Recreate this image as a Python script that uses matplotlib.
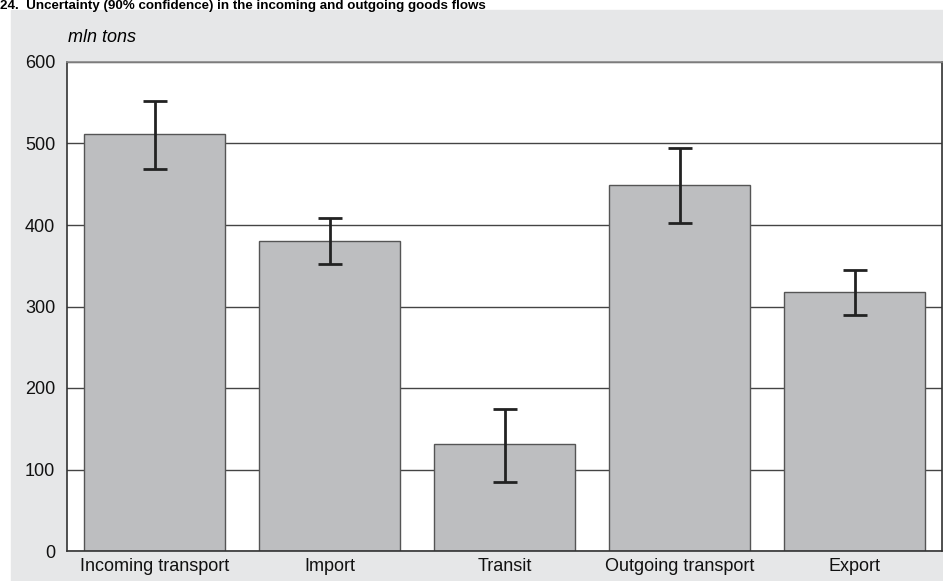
import matplotlib
matplotlib.use('Agg')
import matplotlib.pyplot as plt
import numpy as np

plt.rcParams['font.family'] = ['Liberation Sans', 'DejaVu Sans']

# data (mln tons)
categories = ['Incoming transport', 'Import', 'Transit', 'Outgoing transport', 'Export']
values = [512, 380, 131, 449, 318]
err_low = [469, 352, 85, 402, 290]
err_high = [552, 408, 174, 494, 345]
yticks = [0, 100, 200, 300, 400, 500, 600]

fig = plt.figure(figsize=(9.43, 5.81), dpi=100)

# grey panel behind the chart
fig.patches.append(plt.Rectangle((11 / 943, 0), 1, (581 - 10) / 581,
                                 transform=fig.transFigure, color='#e6e7e8',
                                 zorder=-10))

fig.text(0.0, 1.0, '24.  Uncertainty (90% confidence) in the incoming and outgoing goods flows',
         fontsize=9.6, fontweight='bold', va='top', ha='left')

ax = fig.add_axes([67 / 943, 30 / 581, 875 / 943, 489 / 581])
ax.set_zorder(1)
ax.set_facecolor('white')

x = np.arange(len(categories))
vals = np.array(values)
yerr = np.array([vals - np.array(err_low), np.array(err_high) - vals])

ax.bar(x, vals, width=0.81, color='#bdbec0', edgecolor='#555555', linewidth=1, zorder=2)
ax.errorbar(x, vals, yerr=yerr, fmt='none', ecolor='#222222', elinewidth=2,
            capsize=8.3, capthick=2, zorder=3)

ax.set_xlim(-0.5, len(categories) - 0.5)
ax.set_ylim(0, 600)
ax.set_yticks(yticks)
ax.set_yticklabels([str(t) for t in yticks], fontsize=13)
ax.set_xticks(x)
ax.set_xticklabels(categories, fontsize=13)
ax.tick_params(axis='both', length=0, colors='#111111')
ax.tick_params(axis='y', pad=8.5)
ax.tick_params(axis='x', pad=5)

ax.yaxis.grid(True, color='#444444', linewidth=1)
ax.set_axisbelow(True)
for s in ax.spines.values():
    s.set_color('#333333')
    s.set_linewidth(1.2)
ax.spines['top'].set_color('#888888')

fig.text(68 / 943, 1 - 37 / 581, 'mln tons', fontsize=13, style='italic',
         va='center', ha='left')

fig.savefig('out.png', dpi=100)
